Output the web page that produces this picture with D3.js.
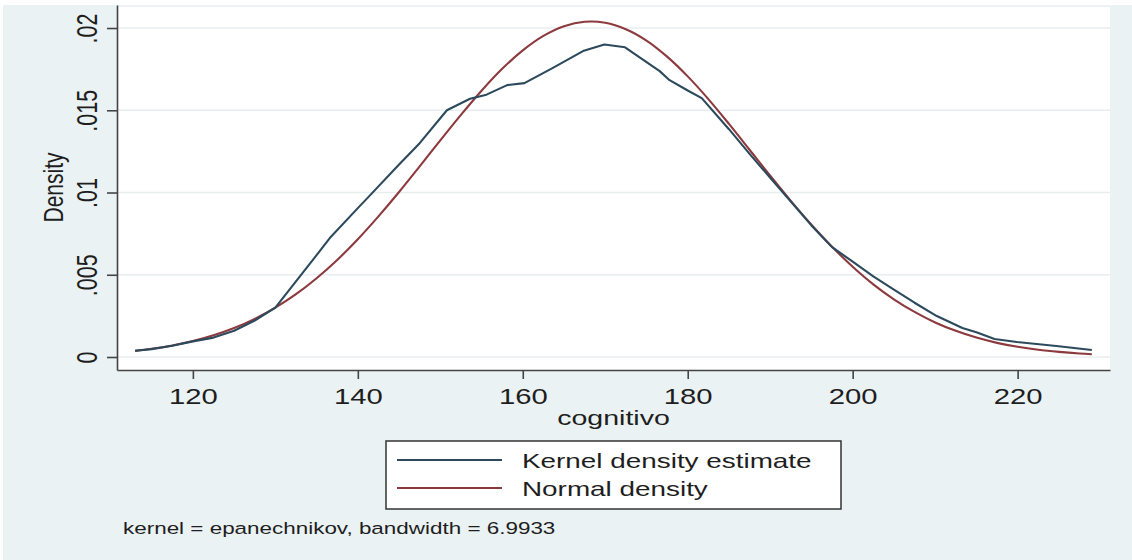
<!DOCTYPE html>
<html>
<head>
<meta charset="utf-8">
<script src="https://cdn.jsdelivr.net/npm/d3@7"></script>
<style>
  html, body { margin: 0; padding: 0; background: #ffffff; }
  svg { display: block; }
  text { font-family: "Liberation Sans", Arial, Helvetica, sans-serif; fill: #1e1e1e; }
</style>
</head>
<body>
<svg id="chart" width="1132" height="560"></svg>
<script>
// ---- data ----
const kernelX = [113, 115, 117.5, 120, 122.5, 125, 127.5, 130, 132.5, 135, 136.6, 140, 141.5, 145, 147.5,
  150.8, 153.6, 155.6, 158.1, 160.2, 163.6, 167.3, 169.9, 172.4, 176.6, 177.8, 180, 181.7, 185, 187.5,
  190, 192.5, 195, 197.5, 200, 202.5, 205, 207.5, 210.2, 213.3, 215, 217.2, 219.9, 224.7, 229];
const kernelY = [0.00038, 0.00048, 0.00068, 0.00095, 0.00118, 0.00160, 0.00222, 0.00300, 0.00460, 0.00620, 0.00723, 0.00905, 0.00984, 0.01170, 0.01300,
  0.01500, 0.01570, 0.01595, 0.01653, 0.01665, 0.01756, 0.01860, 0.01900, 0.01883, 0.01738, 0.01683, 0.01620, 0.01574, 0.01385, 0.01235,
  0.01090, 0.00945, 0.00800, 0.00668, 0.00580, 0.00490, 0.00410, 0.00330, 0.00249, 0.00176, 0.00150, 0.00109, 0.00091, 0.00067, 0.00043];

const normalX = [113, 115, 117.5, 120, 122.5, 125, 127.5, 130, 132.5, 135, 137.5, 140, 142.5, 145, 147.5,
  150, 152.5, 155, 157.5, 160, 162.5, 165, 167.5, 170, 172.5, 175, 177.5, 180, 182.5, 185, 187.5,
  190, 192.5, 195, 197.5, 200, 202.5, 205, 207.5, 210, 212.5, 215, 217.5, 220, 222.5, 225, 227.5, 229];
const normalY = [0.000375, 0.000498, 0.000700, 0.000967, 0.001316, 0.00176, 0.00232, 0.00300, 0.00382, 0.00479, 0.00590, 0.00716, 0.00855, 0.01003, 0.01159,
  0.01317, 0.01472, 0.01619, 0.01752, 0.01864, 0.01952, 0.02011, 0.02038, 0.02032, 0.01993, 0.01924, 0.01826, 0.01706, 0.01568, 0.01417, 0.01260,
  0.01102, 0.00949, 0.00804, 0.00670, 0.00549, 0.00442, 0.00351, 0.00274, 0.00210, 0.00159, 0.00118, 0.00086, 0.00062, 0.00044, 0.00031, 0.00021, 0.000165];

const xTicks = [120, 140, 160, 180, 200, 220];
const yTicks = [0, 0.005, 0.01, 0.015, 0.02];
const yTickLabels = ["0", ".005", ".01", ".015", ".02"];
const xDomain = [110.8, 231.2];
const yDomain = [-0.00079, 0.0214];
const seriesNames = ["Kernel density estimate", "Normal density"];
const xTitle = "cognitivo";
const yTitle = "Density";
const note = "kernel = epanechnikov, bandwidth = 6.9933";

// ---- styling ----
const SX = 1.36;               // horizontal stretch of the reference picture
const colors = ["#2c4a5c", "#8c3a3e"];
const bg = "#eaf2f3";
const gridColor = "#e8eef0";
const axisColor = "#444444";

const svg = d3.select("#chart");
const plot = { left: 117, right: 1110, top: 5, bottom: 370 };

svg.append("rect").attr("x", 3).attr("y", 5).attr("width", 1129).attr("height", 555).attr("fill", bg);
svg.append("rect").attr("x", plot.left).attr("y", plot.top)
  .attr("width", plot.right - plot.left).attr("height", plot.bottom - plot.top).attr("fill", "#ffffff");

const x = d3.scaleLinear().domain(xDomain).range([plot.left, plot.right]);
const y = d3.scaleLinear().domain(yDomain).range([plot.bottom, plot.top]);

// grid
svg.append("g").selectAll("line").data(yTicks).join("line")
  .attr("x1", plot.left).attr("x2", plot.right)
  .attr("y1", d => y(d)).attr("y2", d => y(d))
  .attr("stroke", gridColor).attr("stroke-width", 1.6);
svg.append("line").attr("x1", plot.left).attr("x2", plot.right)
  .attr("y1", plot.top + 1).attr("y2", plot.top + 1)
  .attr("stroke", gridColor).attr("stroke-width", 1.4);

// curves
const lineK = d3.line().x((d, i) => x(kernelX[i])).y(d => y(d)).curve(d3.curveLinear);
const lineN = d3.line().x((d, i) => x(normalX[i])).y(d => y(d)).curve(d3.curveCatmullRom);
svg.append("path").attr("d", lineN(normalY)).attr("fill", "none")
  .attr("stroke", colors[1]).attr("stroke-width", 2.1).attr("stroke-linejoin", "round");
svg.append("path").attr("d", lineK(kernelY)).attr("fill", "none")
  .attr("stroke", colors[0]).attr("stroke-width", 2.1).attr("stroke-linejoin", "round");

// x axis
const gx = svg.append("g").attr("transform", `translate(0,${plot.bottom})`)
  .call(d3.axisBottom(x).tickValues(xTicks).tickSize(9).tickSizeOuter(0).tickFormat(d3.format("d")));
gx.select(".domain").attr("stroke", axisColor).attr("stroke-width", 1.6);
gx.selectAll(".tick line").attr("stroke", axisColor).attr("stroke-width", 1.6);
gx.selectAll(".tick text")
  .attr("y", null).attr("dy", null)
  .attr("transform", `translate(0,34) scale(${SX},1)`)
  .attr("text-anchor", "middle")
  .style("font-size", "21.5px").style("font-family", null).attr("fill", "#1e1e1e");

// y axis
const gy = svg.append("g").attr("transform", `translate(${plot.left},0)`)
  .call(d3.axisLeft(y).tickValues(yTicks).tickSize(10).tickSizeOuter(0)
    .tickFormat((d, i) => yTickLabels[i]));
gy.select(".domain").attr("stroke", axisColor).attr("stroke-width", 1.6);
gy.selectAll(".tick line").attr("stroke", axisColor).attr("stroke-width", 1.6);
gy.selectAll(".tick text")
  .attr("x", null).attr("dy", null)
  .attr("transform", `translate(-20,0) scale(${SX},1) rotate(-90)`)
  .attr("text-anchor", "middle")
  .style("font-size", "21.5px").style("font-family", null).attr("fill", "#1e1e1e");
svg.selectAll(".tick text").attr("font-family", null).attr("font-size", null);
gx.attr("font-family", null).attr("font-size", null);
gy.attr("font-family", null).attr("font-size", null);

// axis titles
svg.append("text").text(xTitle)
  .attr("text-anchor", "middle")
  .attr("transform", `translate(${(plot.left + plot.right) / 2},425) scale(${SX},1)`)
  .style("font-size", "21px");
svg.append("text").text(yTitle)
  .attr("text-anchor", "middle")
  .attr("transform", `translate(63,${y(0.01) - 5}) scale(${SX},1) rotate(-90)`)
  .style("font-size", "21px");

// legend
const lg = svg.append("g");
lg.append("rect").attr("x", 386).attr("y", 441).attr("width", 455).attr("height", 68)
  .attr("fill", "#ffffff").attr("stroke", "#333333").attr("stroke-width", 1.5);
seriesNames.forEach((name, i) => {
  const cy = 460 + i * 28;
  lg.append("line").attr("x1", 397).attr("x2", 502).attr("y1", cy).attr("y2", cy)
    .attr("stroke", colors[i]).attr("stroke-width", 2);
  lg.append("text").text(name)
    .attr("transform", `translate(522,${cy + 7.5}) scale(${SX},1)`)
    .style("font-size", "20.5px");
});

// note
svg.append("text").text(note)
  .attr("transform", `translate(123,534) scale(${SX},1)`)
  .style("font-size", "16.5px");
</script>
</body>
</html>
